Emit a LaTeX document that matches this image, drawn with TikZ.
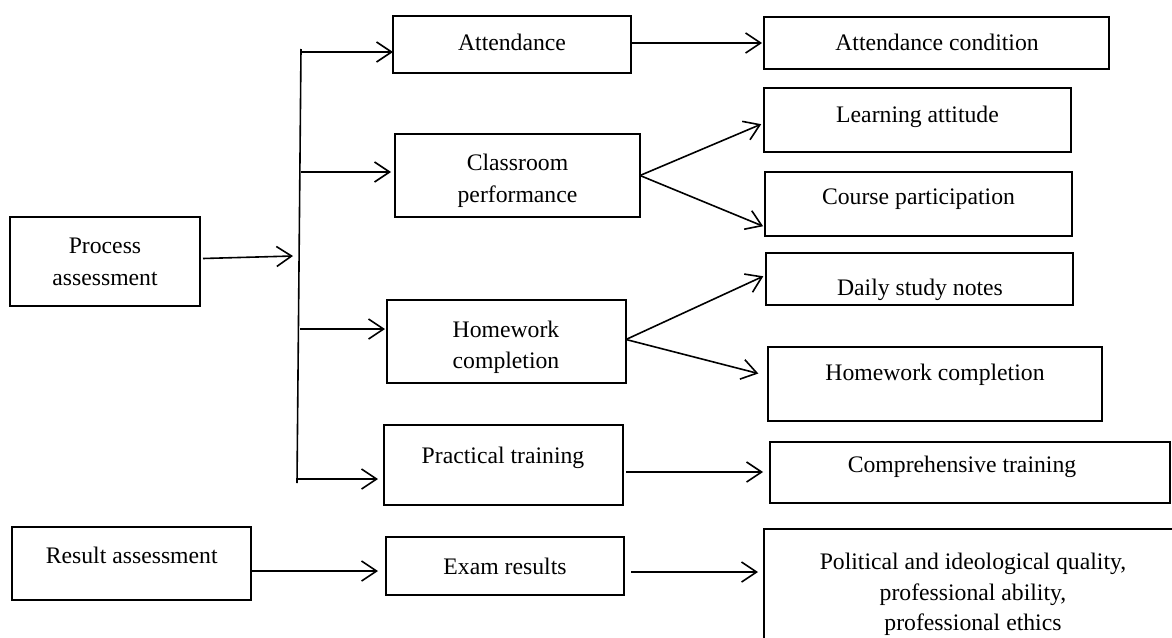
\documentclass[tikz,border=0pt]{standalone}
\usepackage{fontspec}
\setmainfont{Liberation Serif}
\usetikzlibrary{arrows.meta,fit}
\begin{document}
\begin{tikzpicture}[x=1pt,y=-1pt,
  box/.style={draw, line width=1.6pt, inner sep=0pt, outer sep=0pt},
  txt/.style={anchor=base, inner sep=0pt, font=\fontsize{23.7pt}{32pt}\selectfont},
  arr/.style={line width=1.6pt, -{Straight Barb[length=15pt,width=20pt,line width=1.6pt]}},
  busline/.style={line width=1.6pt}]
\useasboundingbox (0,0) rectangle (1172,637);
\clip (0,0) rectangle (1172,637);
% boxes
\node[box, fit={(10,217) (200,306)}] (proc) {};
\node[box, fit={(393,16) (631,73)}] (att) {};
\node[box, fit={(395,134) (640,217)}] (cls) {};
\node[box, fit={(387,300) (626,383)}] (hw) {};
\node[box, fit={(384,425) (623,505)}] (prac) {};
\node[box, fit={(764,17) (1109,69)}] (attc) {};
\node[box, fit={(764,88) (1071,152)}] (la) {};
\node[box, fit={(765,172) (1072,236)}] (cp) {};
\node[box, fit={(766,253) (1073,305)}] (dsn) {};
\node[box, fit={(768,347) (1102,421)}] (hwc) {};
\node[box, fit={(770,442) (1170,503)}] (ct) {};
\node[box, fit={(12,527) (251,600)}] (res) {};
\node[box, fit={(386,537) (624,595)}] (exam) {};
\node[box, fit={(764,529) (1220,720)}] (pol) {};
% texts
\node[txt] (tproc1) at (105,253) {Process};
\node[txt] (tproc2) at (105,285) {assessment};
\node[txt] (tatt) at (512,50) {Attendance};
\node[txt] (tattc) at (937,50) {Attendance condition};
\node[txt] (tcls1) at (517.5,170) {Classroom};
\node[txt] (tcls2) at (517.5,202) {performance};
\node[txt] (tla) at (917.5,122) {Learning attitude};
\node[txt] (tcp) at (918.5,204) {Course participation};
\node[txt] (thw1) at (506,337) {Homework};
\node[txt] (thw2) at (506,368) {completion};
\node[txt] (tdsn) at (920,295) {Daily study notes};
\node[txt] (thwc) at (935,380) {Homework completion};
\node[txt] (tprac) at (503,463) {Practical training};
\node[txt] (tct) at (962,472) {Comprehensive training};
\node[txt] (tres) at (131.7,563) {Result assessment};
\node[txt] (texam) at (505,574) {Exam results};
\node[txt] (tpol1) at (973,569) {Political and ideological quality,};
\node[txt] (tpol2) at (973,600) {professional ability,};
\node[txt] (tpol3) at (973,630) {professional ethics};
% bus
\coordinate (bt) at (301,49);
\coordinate (bb) at (297,483);
\coordinate (bin) at (293,256);
\coordinate (b1) at (301,52);
\coordinate (b2) at (301,172);
\coordinate (b3) at (300,329);
\coordinate (b4) at (297,479);
\draw[busline] (bt) -- (bb);
% connectors
\draw[arr] ([xshift=3pt,yshift=3pt]proc.east) -- (bin);
\draw[arr] (b1) -- (b1 -| att.west);
\draw[arr, shorten >=4pt] (b2) -- (b2 -| cls.west);
\draw[arr, shorten >=2pt] (b3) -- (b3 -| hw.west);
\draw[arr, shorten >=6pt] (b4) -- (b4 -| prac.west);
\draw[arr, shorten >=2pt] (att.east |- attc.west) -- (attc.west);
\draw[arr, shorten >=3pt] (cls.east) -- ([yshift=-3pt]la.west);
\draw[arr, shorten >=2pt] (cls.east) -- ([yshift=-23pt]cp.west);
\draw[arr, shorten >=3pt] ([yshift=2pt]hw.east) -- ([yshift=4pt]dsn.west);
\draw[arr, shorten >=10pt] ([yshift=2pt]hw.east) -- ([yshift=8pt]hwc.west);
\draw[arr, shorten >=7pt] ([xshift=3pt,yshift=0.5pt]prac.east |- ct.west) -- ([yshift=0.5pt]ct.west);
\draw[arr, shorten >=8pt] ([yshift=-7.5pt]res.east) -- ([yshift=-7.5pt]res.east -| exam.west);
\draw[arr, shorten >=6pt] ([xshift=7pt,yshift=-6pt]exam.east) -- ([yshift=-6pt]exam.east -| pol.west);
\end{tikzpicture}
\end{document}
